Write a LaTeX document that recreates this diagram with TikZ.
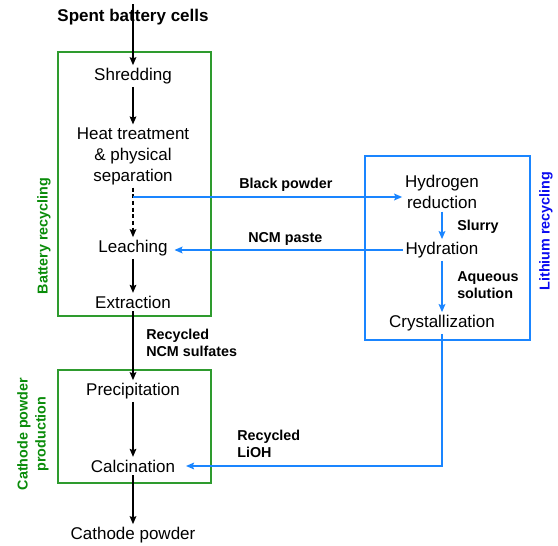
\documentclass[tikz,border=0pt]{standalone}
\usepackage{fontspec}
\setmainfont{Liberation Sans}
\usetikzlibrary{arrows.meta,positioning}
\definecolor{BoxGreen}{HTML}{2E9B2E}
\definecolor{TextGreen}{HTML}{0A8C0A}
\definecolor{FlowBlue}{HTML}{1A85FF}
\definecolor{TextBlue}{HTML}{0A0AF0}

\begin{document}
\begin{tikzpicture}[
    x=0.75pt, y=-0.75pt,
    font=\fontsize{12.75}{15.75}\selectfont,
    proc/.style={align=center, inner sep=2pt},
    lab/.style={font=\fontsize{10.75}{12.75}\selectfont\bfseries, align=left, anchor=west, inner sep=0pt},
    side/.style={font=\fontsize{10.75}{13.5}\selectfont\bfseries, rotate=90, align=center, inner sep=0pt},
    blk/.style={-{Stealth[length=6pt,width=5pt,inset=1pt]}, line width=1.1pt},
    blu/.style={-{Stealth[length=6pt,width=5pt,inset=1pt]}, line width=1.4pt, draw=FlowBlue}
]
\useasboundingbox (0,0) rectangle (558,546);

% frames
\draw[BoxGreen, line width=1pt] (58,52) rectangle (211,316);
\draw[BoxGreen, line width=1pt] (58,370) rectangle (211,483);
\draw[FlowBlue, line width=1.1pt] (365,156) rectangle (530,340);

\node[side, text=TextGreen] (batlab) at (44,236) {Battery recycling};
\node[side, text=TextGreen] (catlab) at (33,434) {Cathode powder\\production};
\node[side, text=TextBlue] (lilab) at (546,231) {Lithium recycling};

% battery recycling
\node[font=\fontsize{12.75}{15.75}\selectfont\bfseries] (spent) at (133,17) {Spent battery cells};
\node[proc] (shred) at (133,76) {Shredding};
\node[proc] (heat) at (133,156) {Heat treatment\\\& physical\\separation};
\node[proc] (leach) at (133,248) {Leaching};
\node[proc] (extr) at (133,302) {Extraction};
\coordinate (split) at (133,197);

% cathode powder production
\node[proc] (precip) at (133,391) {Precipitation};
\node[proc] (calc) at (133,466) {Calcination};
\node[proc] (cathode) at (133,535) {Cathode powder};

% lithium recycling
\node[proc] (hydro) at (442,192) {Hydrogen\\reduction};
\node[proc] (hydra) at (442,250) {Hydration};
\node[proc] (cryst) at (442,323) {Crystallization};

% flow labels
\node[lab] (blacklab) at (239,185) {Black powder};
\node[lab] (ncmlab) at (248,239) {NCM paste};
\node[lab] (sulflab) at (146,343) {Recycled\\NCM sulfates};
\node[lab] (liohlab) at (237,444) {Recycled\\LiOH};
\node[lab] (slurlab) at (457,227) {Slurry};
\node[lab] (aqlab) at (457,285) {Aqueous\\solution};

\draw[blk] (spent.north) -- (shred);
\draw[blk] (shred) -- (heat);
\draw[blk, dash pattern=on 3pt off 2pt] (heat) -- (leach);
\draw[blk] (leach) -- (extr);
\draw[blk] (extr) -- (precip);
\draw[blk] (precip) -- (calc);
\draw[blk] (calc) -- (cathode);

\draw[blu] (split) -- (split -| hydro.west);
\draw[blu, shorten >=3pt] (hydra.west) -- (leach.east |- hydra.west);
\draw[blu] (hydro) -- (hydra);
\draw[blu] (hydra) -- (cryst);
\draw[blu, shorten >=6pt] (cryst.south) |- (calc.east);
\end{tikzpicture}
\end{document}
